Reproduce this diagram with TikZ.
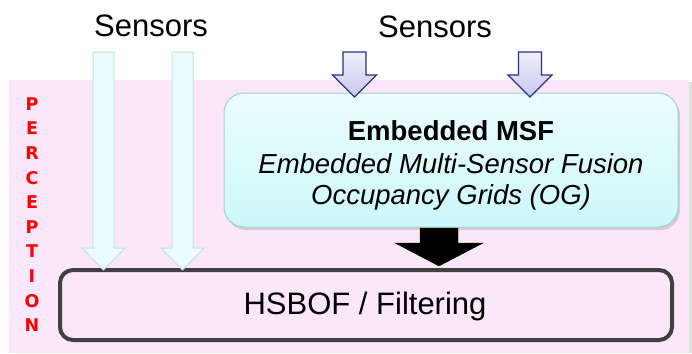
\documentclass[tikz,border=0pt]{standalone}
\usepackage{fontspec}
\setmainfont{Liberation Sans}
\newfontfamily\percfont{DejaVu Sans}
\usetikzlibrary{shadows}
\definecolor{bgpink}{RGB}{252,230,250}
\definecolor{cyanA}{RGB}{236,253,253}
\definecolor{cyanB}{RGB}{204,248,250}
\definecolor{cyanEdge}{RGB}{160,210,210}
\definecolor{lightArrow}{RGB}{234,252,252}
\definecolor{lightArrowEdge}{RGB}{196,228,228}
\definecolor{lavTop}{RGB}{240,240,252}
\definecolor{lavBot}{RGB}{200,200,238}
\definecolor{navyEdge}{RGB}{46,46,140}
\definecolor{boxGray}{RGB}{64,64,64}
\definecolor{percRed}{RGB}{255,0,0}
\tikzset{
  sensorlabel/.style={font=\fontsize{31}{31}\selectfont, inner sep=0pt, anchor=center},
  lightarrow/.style={fill=lightArrow, draw=lightArrowEdge, line width=1pt, line join=miter},
  bluearrow/.style={top color=lavTop, bottom color=lavBot, draw=navyEdge, line width=1.2pt, line join=miter},
  blackarrow/.style={fill=black, draw=black},
  msfbox/.style={rounded corners=20pt, top color=cyanA, bottom color=cyanB, draw=cyanEdge, line width=1pt,
    drop shadow={shadow xshift=2pt, shadow yshift=-3pt, fill=black!30, opacity=0.5}},
  hsbox/.style={rounded corners=13pt, fill=bgpink, draw=boxGray, line width=4pt},
  percletter/.style={font=\percfont\fontsize{17.5}{17.5}\selectfont\bfseries, text=percRed, inner sep=0pt, anchor=center}
}
\begin{document}
\begin{tikzpicture}[x=1pt, y=-1pt]
\useasboundingbox (0,0) rectangle (692,353);
\fill[white] (0,0) rectangle (692,353);
% background panel
\fill[black!12] (11,82) rectangle (692,353);
\fill[bgpink] (9,80) rectangle (689,353);

% labels
\node[sensorlabel] (s1) at (151,26) {Sensors};
\node[sensorlabel] (s2) at (435,27) {Sensors};

% perception letters
\foreach \l [count=\i from 0] in {P,E,R,C,E,P,T,I,O,N}{
  \node[percletter] (p\i) at (32,{104+\i*24.6}) {\l};
}

% MSF box
\draw[msfbox] (224,93) rectangle (678,227);
\node[font=\fontsize{27.5}{27.5}\selectfont\bfseries, inner sep=0pt] (t1) at (451,131) {Embedded MSF};
\node[font=\fontsize{27.5}{27.5}\selectfont\itshape, inner sep=0pt] (t2) at (451,164) {Embedded Multi-Sensor Fusion};
\node[font=\fontsize{27.5}{27.5}\selectfont\itshape, inner sep=0pt] (t3) at (451,197) {Occupancy Grids (OG)};

% HSBOF box
\draw[hsbox] (60,270) rectangle (672,340);
\node[font=\fontsize{31}{31}\selectfont, inner sep=0pt] (hs) at (365,306) {HSBOF / Filtering};

% light sensor arrows (left)
\foreach \cx in {103.5,182.5}{
  \draw[lightarrow] (\cx-10.5,52) -- (\cx+10.5,52) -- (\cx+10.5,248) -- (\cx+21.5,248)
     -- (\cx,270) -- (\cx-21.5,248) -- (\cx-10.5,248) -- cycle;
}

% blue sensor arrows
\foreach \cx in {354.5,530}{
  \draw[bluearrow] (\cx-11.5,52) -- (\cx+11.5,52) -- (\cx+11.5,75) -- (\cx+22,75)
     -- (\cx,97) -- (\cx-22,75) -- (\cx-11.5,75) -- cycle;
}

% black arrow
\draw[blackarrow] (420,228) -- (458,228) -- (458,243) -- (483,243) -- (439,266)
   -- (395,243) -- (420,243) -- cycle;
\end{tikzpicture}
\end{document}
